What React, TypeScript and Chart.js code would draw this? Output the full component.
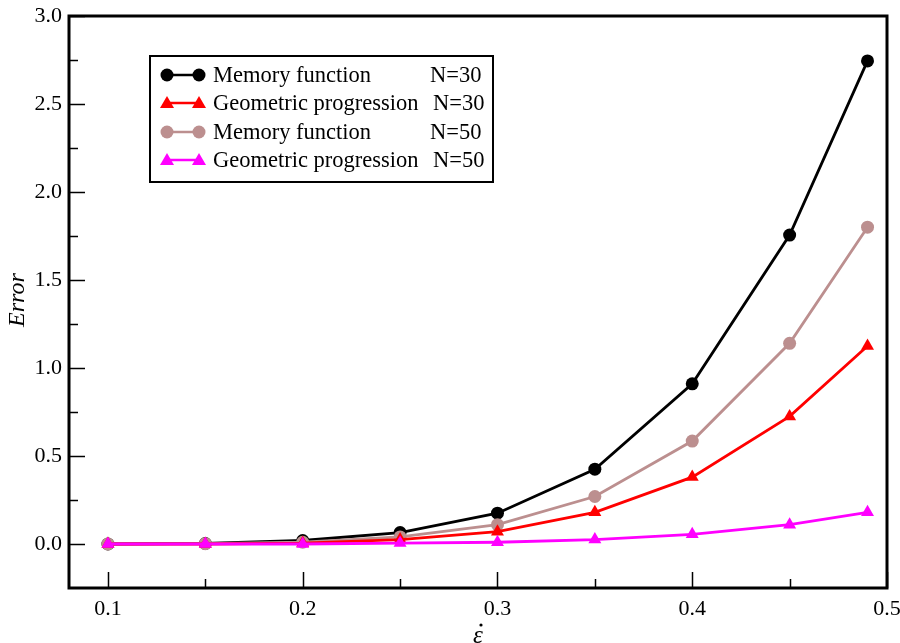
import React, { useEffect, useRef } from "react";
import { Chart, registerables } from "chart.js";

Chart.register(...registerables);

const xValues = [0.1, 0.15, 0.2, 0.25, 0.3, 0.35, 0.4, 0.45, 0.49];
const memN30 = [0.0, 0.003, 0.02, 0.065, 0.175, 0.425, 0.91, 1.755, 2.745];
const geoN30 = [0.0, 0.0, 0.005, 0.025, 0.07, 0.18, 0.38, 0.725, 1.125];
const memN50 = [0.0, 0.002, 0.01, 0.04, 0.11, 0.27, 0.585, 1.14, 1.8];
const geoN50 = [0.0, 0.0, 0.0, 0.005, 0.01, 0.025, 0.055, 0.11, 0.18];

const xTicks = [0.1, 0.2, 0.3, 0.4, 0.5];
const xMinorTicks = [0.15, 0.25, 0.35, 0.45];
const yTicks = [0.0, 0.5, 1.0, 1.5, 2.0, 2.5, 3.0];
const yMinorTicks = [0.25, 0.75, 1.25, 1.75, 2.25, 2.75];

const legendLabels = [
  ["Memory function", "N=30"],
  ["Geometric progression", "N=30"],
  ["Memory function", "N=50"],
  ["Geometric progression", "N=50"],
];

const FONT = "'Liberation Serif', 'Times New Roman', serif";

const series = [
  { label: "Memory function N=30", data: memN30, color: "#000000", style: "circle", order: 4 },
  { label: "Geometric progression N=30", data: geoN30, color: "#ff0000", style: "triangle", order: 2 },
  { label: "Memory function N=50", data: memN50, color: "#bc8f8f", style: "circle", order: 3 },
  { label: "Geometric progression N=50", data: geoN50, color: "#ff00ff", style: "triangle", order: 1 },
];

const framePlugin = {
  id: "framePlugin",
  afterDraw(chart: any) {
    const { ctx, chartArea } = chart;
    const xs = chart.scales.x;
    const ys = chart.scales.y;
    ctx.save();
    // frame
    ctx.strokeStyle = "#000";
    ctx.lineWidth = 3;
    ctx.strokeRect(chartArea.left, chartArea.top, chartArea.right - chartArea.left, chartArea.bottom - chartArea.top);
    // ticks
    ctx.lineWidth = 1.5;
    ctx.beginPath();
    for (const v of yTicks) {
      const y = Math.round(ys.getPixelForValue(v)) + 0.5;
      ctx.moveTo(chartArea.left, y);
      ctx.lineTo(chartArea.left + 16, y);
    }
    for (const v of yMinorTicks) {
      const y = Math.round(ys.getPixelForValue(v)) + 0.5;
      ctx.moveTo(chartArea.left, y);
      ctx.lineTo(chartArea.left + 9, y);
    }
    for (const v of xTicks) {
      const x = Math.round(xs.getPixelForValue(v)) + 0.5;
      ctx.moveTo(x, chartArea.bottom);
      ctx.lineTo(x, chartArea.bottom - 16);
    }
    for (const v of xMinorTicks) {
      const x = Math.round(xs.getPixelForValue(v)) + 0.5;
      ctx.moveTo(x, chartArea.bottom);
      ctx.lineTo(x, chartArea.bottom - 9);
    }
    ctx.stroke();

    // axis titles
    ctx.fillStyle = "#000";
    ctx.font = `italic 24px ${FONT}`;
    ctx.textAlign = "center";
    ctx.textBaseline = "middle";
    ctx.save();
    ctx.translate(18, 300);
    ctx.rotate(-Math.PI / 2);
    ctx.fillText("Error", 0, 0);
    ctx.restore();
    ctx.font = `italic 25px ${FONT}`;
    ctx.textBaseline = "alphabetic";
    ctx.fillText("\u03B5", 478, 643);
    ctx.beginPath();
    ctx.arc(481, 625, 1.6, 0, Math.PI * 2);
    ctx.fill();

    // legend
    const bx = 150, by = 56, bw = 343, bh = 126;
    ctx.fillStyle = "#fff";
    ctx.fillRect(bx, by, bw, bh);
    ctx.lineWidth = 2;
    ctx.strokeStyle = "#000";
    ctx.strokeRect(bx, by, bw, bh);
    const rows = [75, 103, 132, 160];
    series.forEach((s, i) => {
      const y = rows[i];
      ctx.strokeStyle = s.color;
      ctx.fillStyle = s.color;
      ctx.lineWidth = 2.5;
      ctx.beginPath();
      ctx.moveTo(167, y);
      ctx.lineTo(199, y);
      ctx.stroke();
      for (const px of [167, 199]) {
        ctx.beginPath();
        if (s.style === "circle") {
          ctx.arc(px, y, 6.5, 0, Math.PI * 2);
        } else {
          ctx.moveTo(px, y - 7);
          ctx.lineTo(px + 7, y + 5);
          ctx.lineTo(px - 7, y + 5);
          ctx.closePath();
        }
        ctx.fill();
      }
      ctx.fillStyle = "#000";
      ctx.font = `22.5px ${FONT}`;
      ctx.textAlign = "left";
      ctx.textBaseline = "middle";
      ctx.fillText(legendLabels[i][0], 213, y + 1);
      ctx.fillText(legendLabels[i][1], i % 2 === 0 ? 430 : 433, y + 1);
    });
    ctx.restore();
  },
};

export default function App() {
  const ref = useRef<HTMLCanvasElement | null>(null);
  useEffect(() => {
    if (!ref.current) return;
    const chart = new Chart(ref.current, {
      type: "line",
      data: {
        datasets: series.map((s) => ({
          label: s.label,
          data: xValues.map((x, i) => ({ x, y: s.data[i] })),
          borderColor: s.color,
          backgroundColor: s.color,
          borderWidth: 2.8,
          pointStyle: s.style,
          pointRadius: s.style === "circle" ? 6.5 : 7.5,
          pointBorderWidth: 0,
          pointBackgroundColor: s.color,
          tension: 0,
          order: s.order,
          clip: false as any,
        })),
      },
      options: {
        animation: false,
        responsive: false,
        layout: { padding: { top: 16, right: 13, left: 0, bottom: 0 } },
        plugins: { legend: { display: false }, tooltip: { enabled: false } },
        scales: {
          x: {
            type: "linear",
            min: 0.08,
            max: 0.5,
            grid: { display: false, drawTicks: false },
            border: { display: false },
            afterBuildTicks: (scale: any) => {
              scale.ticks = xTicks.map((v) => ({ value: v }));
            },
            afterFit: (scale: any) => {
              scale.height = 55;
              scale.paddingLeft = 0;
              scale.paddingRight = 0;
            },
            ticks: {
              padding: 8,
              color: "#000",
              font: { family: FONT, size: 22 },
              maxRotation: 0,
              callback: (v: any) => Number(v).toFixed(1),
            },
          },
          y: {
            type: "linear",
            min: -0.25,
            max: 3.0,
            grid: { display: false, drawTicks: false },
            border: { display: false },
            afterBuildTicks: (scale: any) => {
              scale.ticks = yTicks.map((v) => ({ value: v }));
            },
            afterFit: (scale: any) => {
              scale.width = 69;
              scale.paddingTop = 0;
              scale.paddingBottom = 0;
            },
            ticks: {
              padding: 7,
              color: "#000",
              font: { family: FONT, size: 22 },
              callback: (v: any) => Number(v).toFixed(1),
            },
          },
        },
      },
      plugins: [framePlugin],
    });
    return () => chart.destroy();
  }, []);
  return (
    <div style={{ position: "absolute", left: 0, top: 0, width: 900, height: 643, background: "#fff" }}>
      <canvas ref={ref} width={900} height={643} style={{ width: 900, height: 643 }} />
    </div>
  );
}
